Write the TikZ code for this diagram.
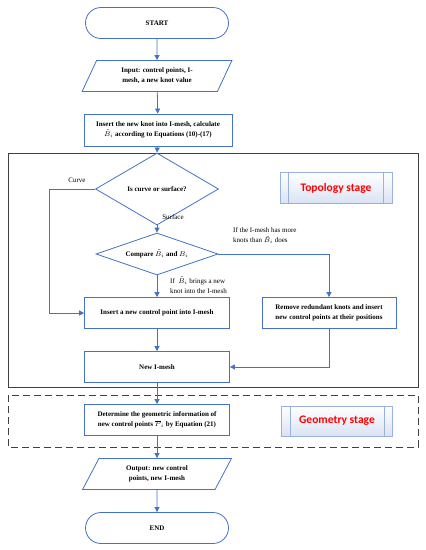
\documentclass[tikz,border=0pt]{standalone}
\usepackage{fontspec}
\setmainfont{Liberation Serif}
\newfontfamily\stagefont{Carlito}
\usepackage{amsmath}
\usetikzlibrary{shapes.geometric,shapes.misc,arrows.meta}
\definecolor{flowblue}{HTML}{4472C4}

\begin{document}
\begin{tikzpicture}[x=1pt,y=-1pt,
    box/.style={draw=flowblue, line width=0.8pt, minimum width=145pt, minimum height=31pt, align=center, inner sep=1pt, font=\fontsize{7}{10}\selectfont\bfseries},
    term/.style={box, rounded rectangle},
    io/.style={box, trapezium, trapezium left angle=64, trapezium right angle=116, trapezium stretches=true, minimum width=150pt},
    dec/.style={box, diamond, aspect=2.5},
    stagebox/.style={draw=flowblue!55, line width=0.6pt, top color=white, bottom color=flowblue!20, minimum width=112pt, minimum height=31pt, text=red, font=\stagefont\fontsize{11.5}{13}\selectfont\bfseries},
    note/.style={align=left, inner sep=1pt, font=\fontsize{7}{10}\selectfont},
    arr/.style={draw=flowblue, line width=0.8pt, -{Triangle[length=5pt,width=5pt]}},
    frame/.style={draw=black!75, line width=1pt}]

        \path[use as bounding box, fill=white] (0,0) rectangle (426,550);

        % stage frames
        \draw[frame] (8,153) rectangle (418,387);
        \draw[frame, dash pattern=on 7pt off 4pt] (8,395) rectangle (418,447);

        \node[term] (start) at (157,23) {START};
        \node[io] (input) at (157,76) {Input: control points, I-\\mesh, a new knot value};
        \node[box, minimum width=148pt, minimum height=32pt] (knot) at (158,130) {Insert the new knot into I-mesh, calculate\\$\tilde{B}_i$ according to Equations (10)-(17)};

        \node[dec, minimum width=123pt, minimum height=72pt] (curve) at (157,189) {Is curve or surface?};
        \node[dec, minimum width=122pt, minimum height=42pt] (compare) at (157,254) {Compare $\tilde{B}_i$ and $B_i$};
        \node[box] (insert) at (157,313) {Insert a new control point into I-mesh};
        \node[box, minimum width=134pt] (remove) at (329,313) {Remove redundant knots and insert\\new control points at their positions};
        \node[box] (newmesh) at (157,367) {New I-mesh};

        \node[stagebox] (topo) at (336,188) {Topology stage};
        \draw[draw=flowblue!55, line width=0.6pt] ([xshift=9pt]topo.north west) -- ([xshift=9pt]topo.south west);
        \draw[draw=flowblue!55, line width=0.6pt] ([xshift=-9pt]topo.north east) -- ([xshift=-9pt]topo.south east);

        \node[box] (geom) at (157,420) {Determine the geometric information of\\new control points $\overline{P}_i$ by Equation (21)};
        \node[stagebox, minimum width=111pt, minimum height=30pt] (geo) at (337,421) {Geometry stage};
        \draw[draw=flowblue!55, line width=0.6pt] ([xshift=9pt]geo.north west) -- ([xshift=9pt]geo.south west);
        \draw[draw=flowblue!55, line width=0.6pt] ([xshift=-9pt]geo.north east) -- ([xshift=-9pt]geo.south east);

        \node[io] (output) at (157,474) {Output: new control\\points, new I-mesh};
        \node[term] (end) at (157,528) {END};

        % labels
        \node[note] (curvelbl) at (77,180) {Curve};
        \node[note] (surflbl) at (173,217) {Surface};
        \node[note, anchor=west] (morelbl) at (232,236) {If the I-mesh has more\\knots than $\tilde{B}_i$ does};
        \node[note, anchor=west] (newlbl) at (169,285) {If \ $\tilde{B}_i$ brings a new\\knot into the I-mesh};

        \draw[arr] (start) -- (input);
        \draw[arr] (input) -- (knot);
        \draw[arr] (knot) -- (curve.north);
        \draw[arr] (curve.west) -- ++(-46,0) |- (insert.west);
        \draw[arr] (curve.south) -- (compare.north);
        \draw[arr] (compare.east) -| (remove.north);
        \draw[arr] (compare.south) -- (insert.north);
        \draw[arr] (insert) -- (newmesh);
        \draw[arr] (remove.south) |- (newmesh.east);
        \draw[arr] (newmesh) -- (geom);
        \draw[arr] (geom) -- (output);
        \draw[arr] (output) -- (end);
    \end{tikzpicture}
\end{document}
